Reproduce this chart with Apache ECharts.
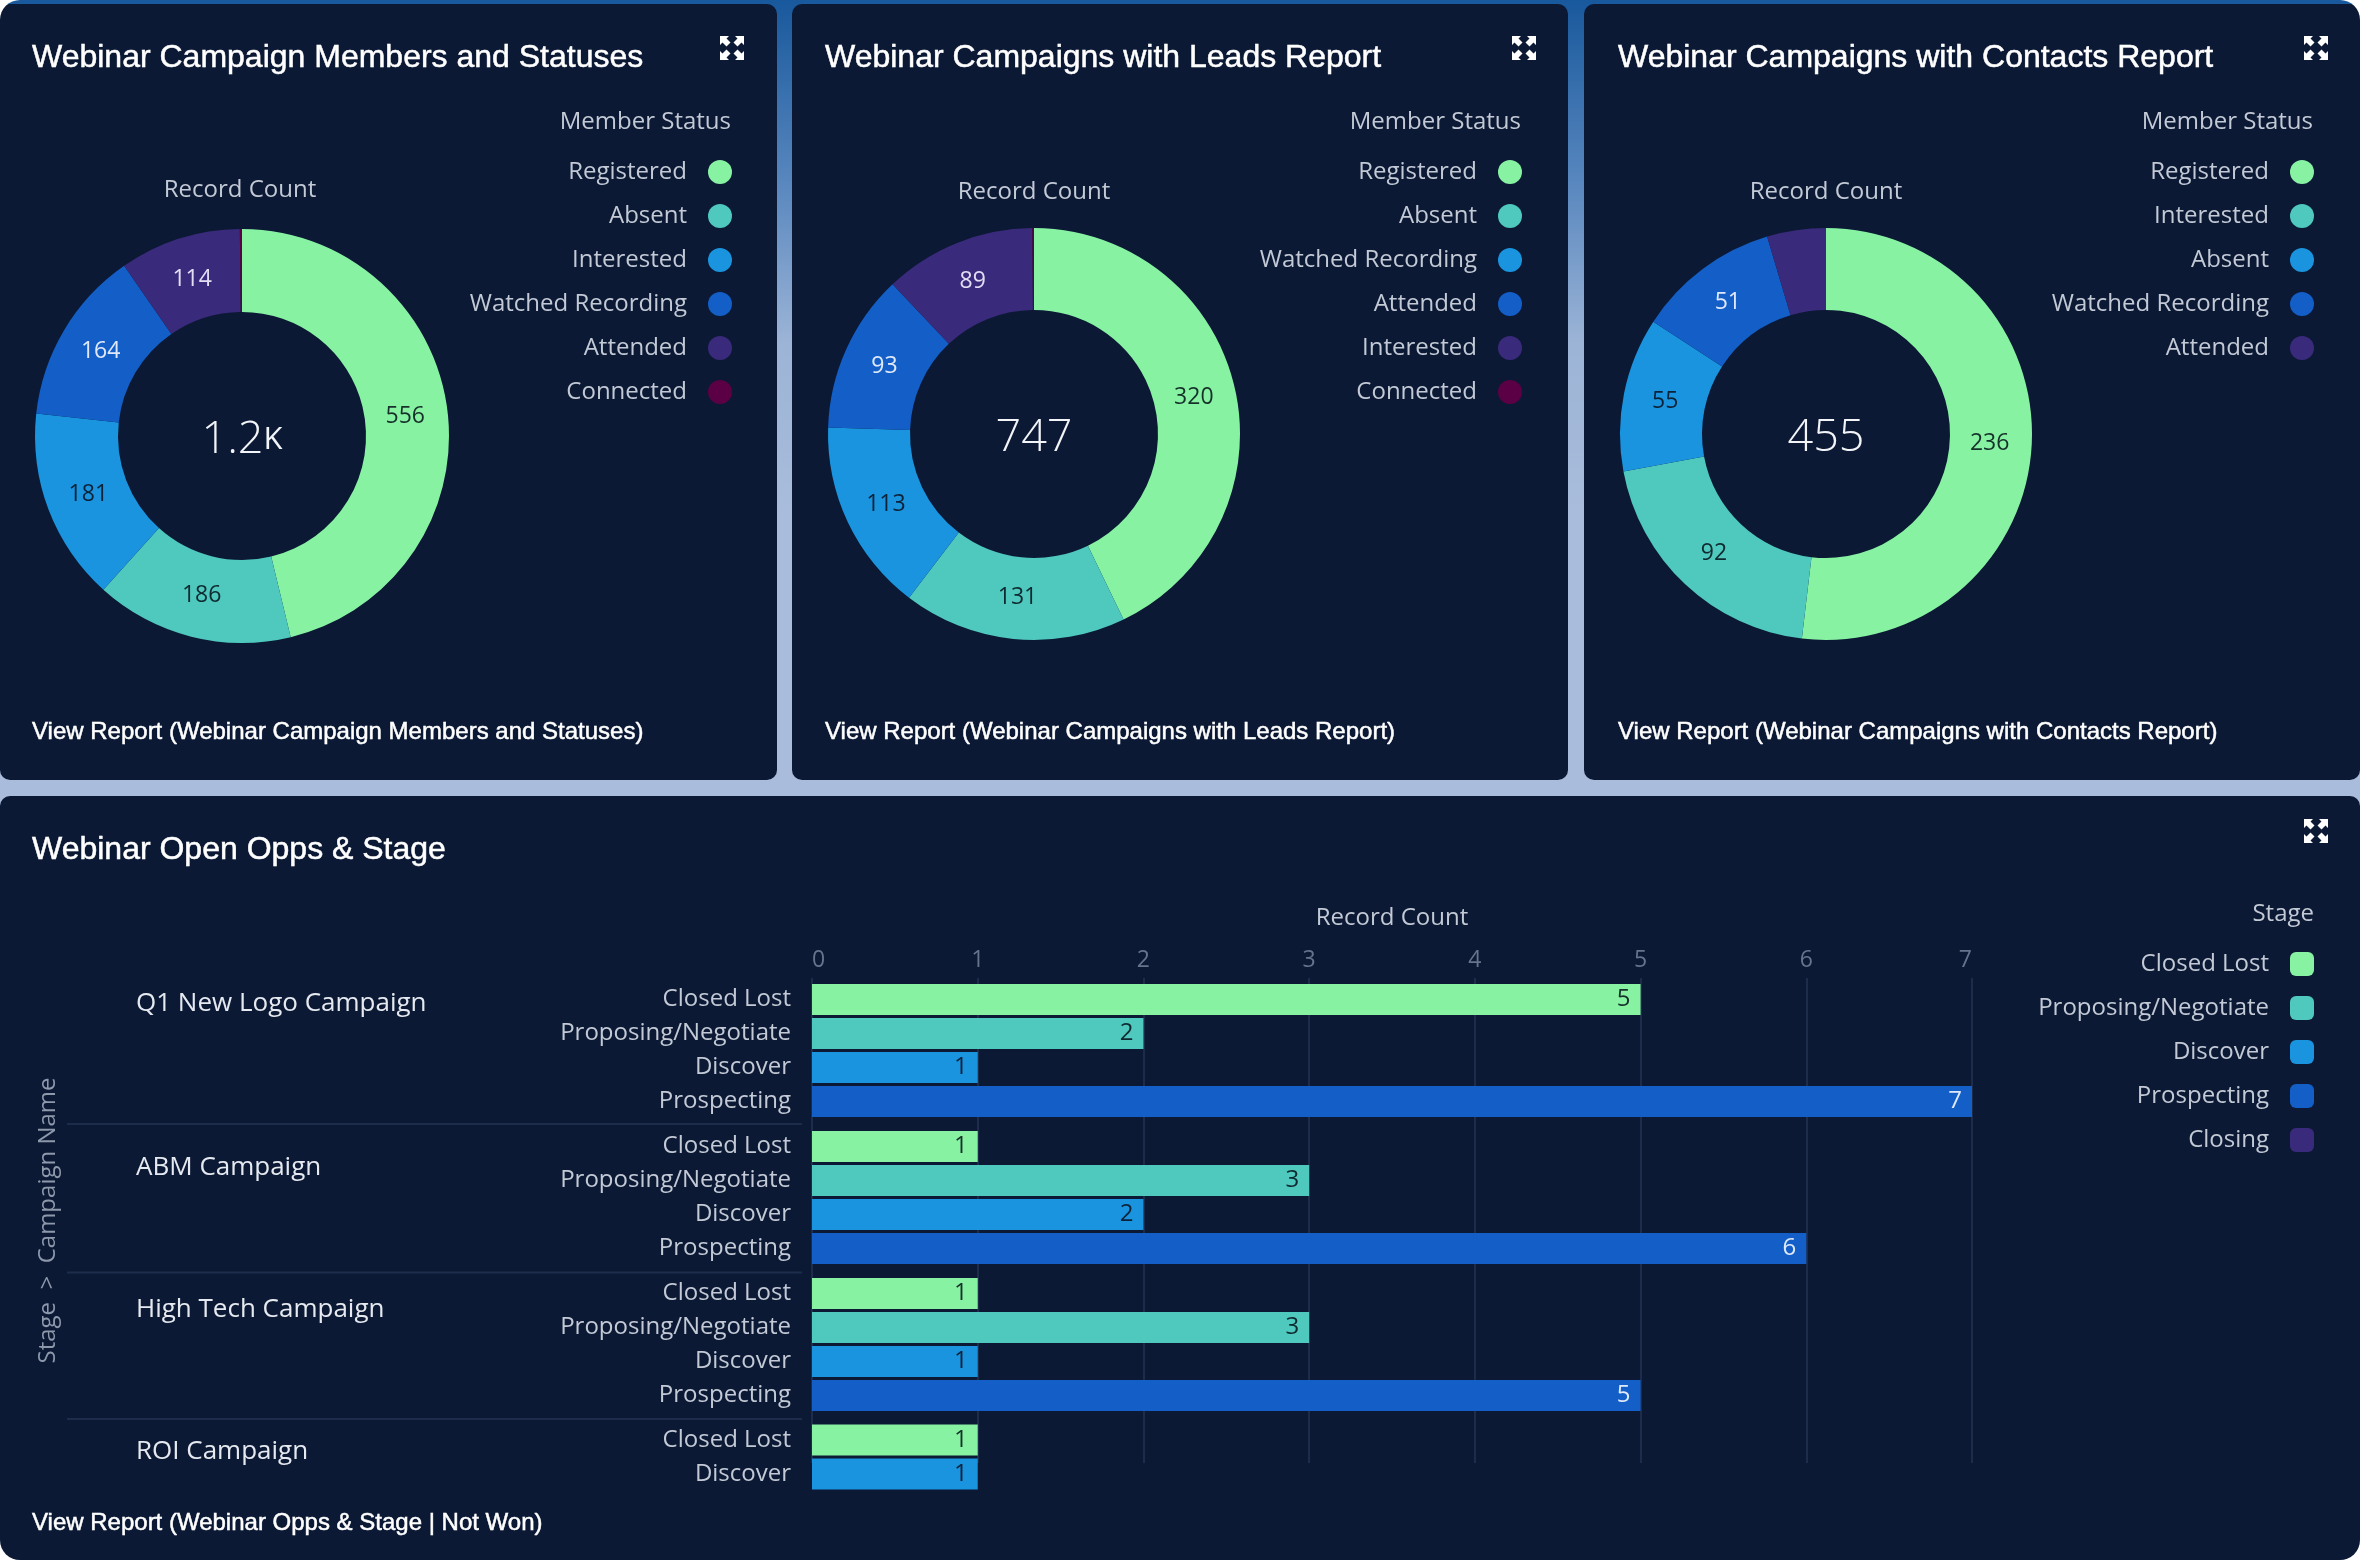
<!DOCTYPE html>
<html>
<head>
<meta charset="utf-8">
<style>
  html, body { margin: 0; background: #fff; }
  #main { width: 2360px; height: 1560px; border-radius: 20px; overflow: hidden; }
</style>
<script src="https://cdn.jsdelivr.net/npm/echarts@6/dist/echarts.min.js"></script>
</head>
<body>
<div id="main"></div>
<script>
// donuts
const membersNames = ['Registered', 'Absent', 'Interested', 'Watched Recording', 'Attended', 'Connected'];
const membersValues = [556, 186, 181, 164, 114, 2];
const leadsNames = ['Registered', 'Absent', 'Watched Recording', 'Attended', 'Interested', 'Connected'];
const leadsValues = [320, 131, 113, 93, 89, 1];
const contactsNames = ['Registered', 'Interested', 'Absent', 'Watched Recording', 'Attended'];
const contactsValues = [236, 92, 55, 51, 21];

// bars
const stages = ['Closed Lost', 'Proposing/Negotiate', 'Discover', 'Prospecting', 'Closing'];
const campaigns = ['Q1 New Logo Campaign', 'ABM Campaign', 'High Tech Campaign', 'ROI Campaign'];
const q1Stages = ['Closed Lost', 'Proposing/Negotiate', 'Discover', 'Prospecting'];
const q1Counts = [5, 2, 1, 7];
const abmStages = ['Closed Lost', 'Proposing/Negotiate', 'Discover', 'Prospecting'];
const abmCounts = [1, 3, 2, 6];
const highTechStages = ['Closed Lost', 'Proposing/Negotiate', 'Discover', 'Prospecting'];
const highTechCounts = [1, 3, 1, 5];
const roiStages = ['Closed Lost', 'Discover'];
const roiCounts = [1, 1];

const palette = ['#88F2A3', '#4FC8BE', '#1A94DE', '#135FC7', '#3A2A7B', '#5C0045'];
const labelColors = ['#16312a', '#0e2a30', '#0c2238', '#dfe9fb', '#e4def5', '#ffffff'];
const panel = '#0B1935';
const sans = '"Open Sans", sans-serif';
const head = '"Liberation Sans", Arial, sans-serif';
const softText = '#c3cad6';

var myChart = echarts.init(document.getElementById('main'));

function text(x, y, str, font, fill, align) {
  return {
    type: 'text', x: x, y: y, z: 5,
    style: { text: str, font: font, fill: fill, textAlign: align || 'left', textVerticalAlign: 'middle' }
  };
}
// titles look a bit heavier than plain Liberation Sans
function headText(x, y, str, size) {
  const el = text(x, y, str, size + 'px ' + head, '#fff');
  el.style.stroke = '#fff';
  el.style.lineWidth = 0.5;
  return el;
}
function card(x, y, w, h) {
  return { type: 'rect', z: -1, shape: { x: x, y: y, width: w, height: h, r: 10 }, style: { fill: panel } };
}
// four arrows pointing out of the corners
function expand(x, y) {
  const arrow = [[0, 0], [9, 0], [6.5, 2.5], [10.5, 6.5], [6.5, 10.5], [2.5, 6.5], [0, 9]];
  return {
    type: 'group', x: x, y: y, z: 5,
    children: [[1, 1], [-1, 1], [1, -1], [-1, -1]].map(s => ({
      type: 'polygon', z: 5,
      shape: { points: arrow.map(p => [s[0] * (p[0] - 12), s[1] * (p[1] - 12)]) },
      style: { fill: '#fff' }
    }))
  };
}

const donuts = [
  { names: membersNames, values: membersValues, cx: 242, cy: 436, r: 207, left: 32, title: 'Webinar Campaign Members and Statuses', report: 'View Report (Webinar Campaign Members and Statuses)', legendRight: 732, countX: 240, countY: 190.5, iconX: 732 },
  { names: leadsNames, values: leadsValues, cx: 1034, cy: 434, r: 206, left: 825, title: 'Webinar Campaigns with Leads Report', report: 'View Report (Webinar Campaigns with Leads Report)', legendRight: 1522, countX: 1034, countY: 192, iconX: 1524 },
  { names: contactsNames, values: contactsValues, cx: 1826, cy: 434, r: 206, left: 1618, title: 'Webinar Campaigns with Contacts Report', report: 'View Report (Webinar Campaigns with Contacts Report)', legendRight: 2314, countX: 1826, countY: 192, iconX: 2316 }
];

const groups = [
  { name: campaigns[0], cats: q1Stages, counts: q1Counts, top: 982.5, labelY: 1004 },
  { name: campaigns[1], cats: abmStages, counts: abmCounts, top: 1129.5, labelY: 1167.5 },
  { name: campaigns[2], cats: highTechStages, counts: highTechCounts, top: 1276.5, labelY: 1309.5 },
  { name: campaigns[3], cats: roiStages, counts: roiCounts, top: 1423, labelY: 1451.5 }
];

// panels and plain text
const graphics = [card(0, 4, 777, 776), card(792, 4, 776, 776), card(1584, 4, 776, 776), card(0, 796, 2360, 764)];
donuts.forEach(d => {
  graphics.push(headText(d.left, 58, d.title, 32));
  graphics.push(headText(d.left, 732, d.report, 24));
  graphics.push(text(d.countX, d.countY, 'Record Count', '24px ' + sans, softText, 'center'));
  graphics.push(text(d.legendRight - 1, 122, 'Member Status', '24px ' + sans, softText, 'right'));
  graphics.push(expand(d.iconX, 48));
});
// centre numbers
graphics.push({
  type: 'text', x: 242, y: 440, z: 5,
  style: {
    text: '{n|1.2}{k|K}', textAlign: 'center', textVerticalAlign: 'middle',
    rich: { n: { font: '300 45px ' + sans, fill: '#f2f4f8' }, k: { font: '400 31px ' + sans, fill: '#f2f4f8' } }
  }
});
graphics.push(text(1034, 438, '747', '300 45px ' + sans, '#f2f4f8', 'center'));
graphics.push(text(1826, 438, '455', '300 45px ' + sans, '#f2f4f8', 'center'));

graphics.push(headText(32, 850, 'Webinar Open Opps & Stage', 32));
graphics.push(headText(32, 1523, 'View Report (Webinar Opps & Stage | Not Won)', 24));
graphics.push(text(2314, 914, 'Stage', '24px ' + sans, softText, 'right'));
graphics.push(expand(2316, 831));
groups.forEach(g => graphics.push(text(136, g.labelY, g.name, '26px ' + sans, '#e6eaf0')));
[1124, 1272.5, 1419].forEach(y => {
  graphics.push({ type: 'line', z: 1, shape: { x1: 67, y1: y, x2: 802, y2: y }, style: { stroke: '#1d2c4b', lineWidth: 2 } });
});

// pies
const series = donuts.map(d => ({
  type: 'pie',
  center: [d.cx, d.cy],
  radius: [124, d.r],
  startAngle: 90,
  silent: true,
  data: d.names.map((n, i) => ({
    name: n,
    value: d.values[i],
    itemStyle: { color: palette[i] },
    label: { color: labelColors[i], show: d.values[i] >= 30 }
  })),
  label: { position: 'inside', formatter: '{c}', fontFamily: sans, fontSize: 23 },
  labelLine: { show: false },
  // labels sit a little inside the middle of the ring
  labelLayout: p => {
    const x = p.labelRect.x + p.labelRect.width / 2;
    const y = p.labelRect.y + p.labelRect.height / 2;
    return { x: d.cx + (x - d.cx) * 0.976, y: d.cy + (y - d.cy) * 0.976 };
  }
}));

// grid 0 only carries the axis, gridlines and the vertical name
const grids = [{ left: 812, top: 978, width: 1160, height: 485, outerBoundsMode: 'none' }];
const xAxes = [{
  gridIndex: 0, type: 'value', position: 'top', min: 0, max: 7, interval: 1,
  name: 'Record Count', nameLocation: 'middle', nameGap: 48,
  nameTextStyle: { color: softText, fontFamily: sans, fontSize: 24 },
  axisLine: { show: false }, axisTick: { show: false },
  axisLabel: {
    color: '#66748c', fontFamily: sans, fontSize: 23, margin: 6,
    alignMinLabel: 'left', alignMaxLabel: 'right'
  },
  splitLine: { show: true, lineStyle: { color: '#1d2c4b', width: 2 } }
}];
const yAxes = [{
  gridIndex: 0, type: 'value', min: 0, max: 1,
  name: 'Stage  >  Campaign Name', nameLocation: 'middle', nameGap: 752,
  nameTextStyle: { color: '#8d98aa', fontFamily: sans, fontSize: 24 },
  axisLine: { show: false }, axisTick: { show: false }, axisLabel: { show: false }, splitLine: { show: false }
}];

groups.forEach((g, i) => {
  grids.push({ left: 812, top: g.top, width: 1160, height: g.cats.length * 34, outerBoundsMode: 'none' });
  xAxes.push({ gridIndex: i + 1, type: 'value', min: 0, max: 7, show: false });
  yAxes.push({
    gridIndex: i + 1, type: 'category', inverse: true, data: g.cats,
    axisLine: { show: false }, axisTick: { show: false },
    axisLabel: { color: softText, fontFamily: sans, fontSize: 24, margin: 21, interval: 0, padding: [2, 0, 0, 0] }
  });
  stages.slice(0, 4).forEach(stage => {
    const idx = stages.indexOf(stage);
    series.push({
      name: stage, type: 'bar', stack: 'group' + i, silent: true,
      xAxisIndex: i + 1, yAxisIndex: i + 1, barWidth: 31,
      itemStyle: { color: palette[idx] },
      label: {
        show: true, position: 'insideRight', distance: 10,
        color: labelColors[idx], fontFamily: sans, fontSize: 24
      },
      data: g.cats.map((c, j) => (c === stage ? g.counts[j] : null))
    });
  });
});
// no bar uses Closing, it only shows in the legend
series.push({ name: 'Closing', type: 'bar', xAxisIndex: 1, yAxisIndex: 1, stack: 'group0', itemStyle: { color: palette[4] }, data: [] });

// legends
function legendOf(names, top, right, icon, size) {
  return {
    orient: 'vertical', align: 'right', top: top, right: right, padding: 0,
    icon: icon, itemWidth: size, itemHeight: size, itemGap: 44 - size,
    selectedMode: false,
    textStyle: { color: softText, fontFamily: sans, fontSize: 24, padding: [0, 16, 0, 0] },
    data: names.map((n, i) => ({ name: n, itemStyle: { color: palette[i] } }))
  };
}
const legends = donuts.map(d => legendOf(d.names, 160, 2360 - d.legendRight, 'circle', 24));
legends.push(legendOf(stages, 952, 46, 'roundRect', 24));

myChart.setOption({
  animation: false,
  backgroundColor: {
    type: 'linear', x: 0, y: 0, x2: 0, y2: 1,
    colorStops: [
      { offset: 0, color: '#18589C' },
      { offset: 0.12, color: '#5A88BF' },
      { offset: 0.22, color: '#9CB4D6' },
      { offset: 0.33, color: '#A9BCDB' },
      { offset: 1, color: '#A9BCDB' }
    ]
  },
  graphic: { elements: graphics },
  legend: legends,
  grid: grids,
  xAxis: xAxes,
  yAxis: yAxes,
  series: series
});
</script>
</body>
</html>
